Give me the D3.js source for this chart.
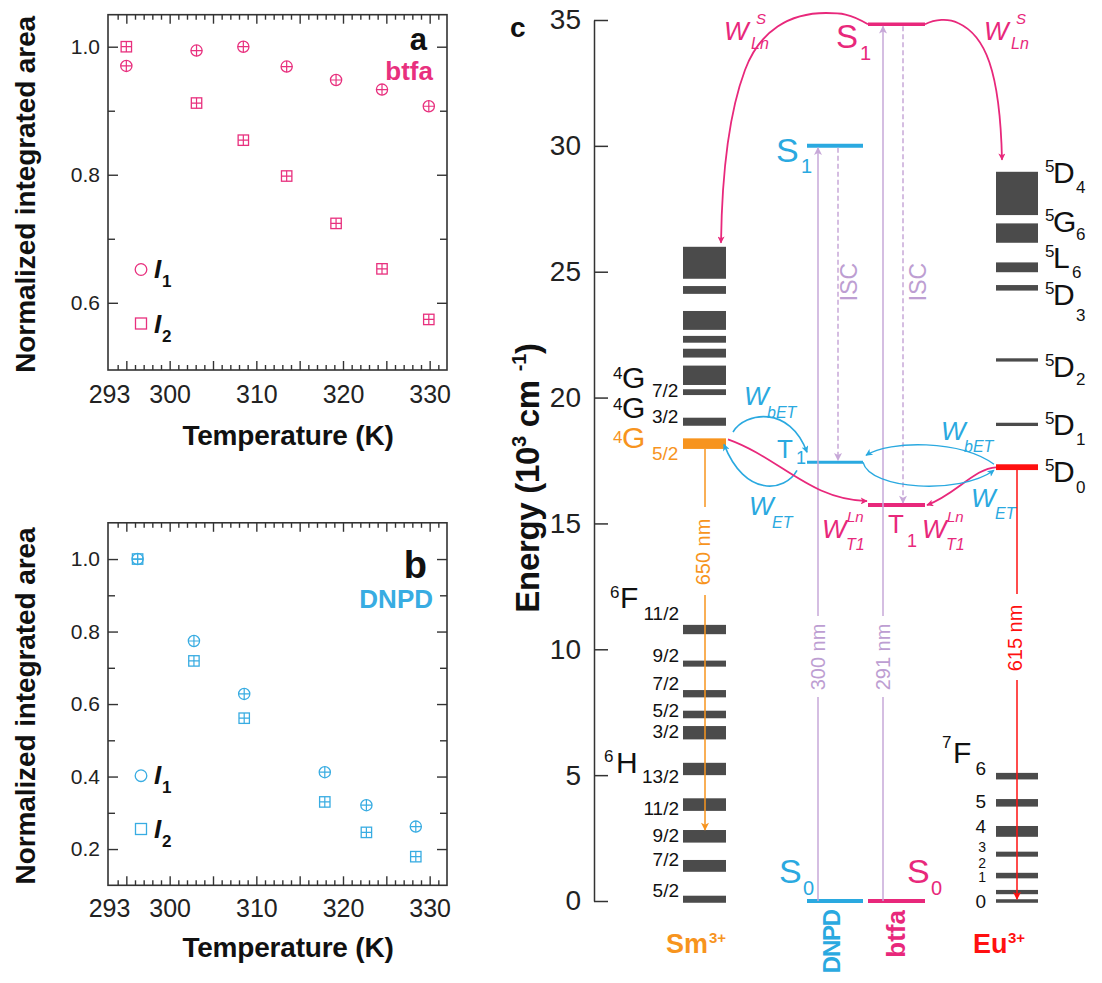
<!DOCTYPE html>
<html><head><meta charset="utf-8">
<script src="https://cdn.jsdelivr.net/npm/d3@7"></script>
<style>body{margin:0;background:#fff}svg{display:block}text{font-family:"Liberation Sans",Arial,Helvetica,sans-serif}</style>
</head><body><svg id="c" width="1102" height="983"></svg>
<script>
// ---------------- DATA ----------------
const tempsA = [295.0, 303.1, 308.5, 313.5, 319.2, 324.5, 329.9];
const btfaI1 = [0.970, 0.994, 1.000, 0.969, 0.948, 0.933, 0.907];
const btfaI2 = [1.000, 0.912, 0.854, 0.798, 0.724, 0.653, 0.574];
const tempsB = [296.3, 302.8, 308.6, 317.9, 322.7, 328.4];
const dnpdI1 = [1.000, 0.774, 0.628, 0.412, 0.321, 0.262];
const dnpdI2 = [1.000, 0.719, 0.561, 0.330, 0.246, 0.179];
const tempTicks = [293, 300, 310, 320, 330];
const yTicksA = [0.6, 0.8, 1.0];
const yTicksB = [0.2, 0.4, 0.6, 0.8, 1.0];
const energyTicks = [0, 5, 10, 15, 20, 25, 30, 35];
// Sm3+ levels (10^3 cm-1) [low, high]
const smUpper = [[24.72,25.99],[24.12,24.43],[22.69,23.44],[22.18,22.45],[21.59,21.94],[20.50,21.27],[20.10,20.33],[18.88,19.20]];
const smEmit = [17.96, 18.38];
const smLower = [[10.60,10.97],[9.31,9.55],[8.09,8.38],[7.26,7.56],[6.42,6.95],[5.00,5.49],[3.58,4.08],[2.32,2.82],[1.16,1.63],[-0.07,0.21]];
const smLowerLabels = ["11/2","9/2","7/2","5/2","3/2","13/2","11/2","9/2","7/2","5/2"];
// Eu3+ levels
const euUpper = [[27.25,28.97],[26.15,26.92],[24.98,25.37],[24.25,24.47],[21.43,21.56],[18.87,19.00]];
const euUpperLabels = [["D","4"],["G","6"],["L","6"],["D","3"],["D","2"],["D","1"]];
const euEmit = [17.12, 17.35];
const euLower = [[4.83,5.09],[3.75,4.05],[2.55,2.98],[1.76,1.96],[0.90,1.12],[0.27,0.44],[-0.07,0.07]];
const euLowerLabels = ["6","5","4","3","2","1","0"];
// ligand levels
const dnpdS1 = 30.0, dnpdT1 = 17.43, dnpdS0 = 0;
const btfaS1 = 34.83, btfaT1 = 15.73, btfaS0 = 0;

// ---------------- STYLE ----------------
const PINK = "#e8287b", BLUE = "#2aa9e0", ORANGE = "#f7941e", RED = "#ff1010", GRAY = "#4b4b4b", PURPLE = "#c7a8d8", PTXT = "#bd9ed2", AX = "#333";
const svg = d3.select("#c");

function T(x, y, s, o = {}) {
  const t = svg.append("text").attr("x", x).attr("y", y).text(s)
    .attr("font-size", o.size || 20).attr("fill", o.fill || "#111");
  if (o.weight) t.attr("font-weight", o.weight);
  if (o.style) t.attr("font-style", o.style);
  if (o.anchor) t.attr("text-anchor", o.anchor);
  if (o.ls !== undefined) t.attr("letter-spacing", o.ls);
  if (o.db) t.attr("dominant-baseline", o.db);
  if (o.rot) t.attr("transform", `rotate(${o.rot},${x},${y})`);
  return t;
}

// ---------------- PANELS a, b ----------------
function panel(o) {
  const L = 108, R = 447;
  const x = d3.scaleLinear([293, 332], [109, 447]);
  const y = d3.scaleLinear(o.yDom, o.yRange);
  const top = o.yRange[1], bot = o.yRange[0];
  const g = svg.append("g");
  const minorX = d3.range(294, 332).filter(v => v % 5 !== 0);
  const majorX = d3.range(295, 332, 5);
  const styleAx = s => { s.select(".domain").remove(); s.selectAll("line").attr("stroke", AX).attr("stroke-width", 1.4); };
  g.append("g").attr("transform", `translate(0,${bot})`).call(d3.axisBottom(x).tickValues(minorX).tickSize(-5).tickFormat("")).call(styleAx);
  g.append("g").attr("transform", `translate(0,${bot})`).call(d3.axisBottom(x).tickValues(majorX).tickSize(-9).tickFormat("")).call(styleAx);
  g.append("g").attr("transform", `translate(0,${top})`).call(d3.axisTop(x).tickValues(minorX).tickSize(-5).tickFormat("")).call(styleAx);
  g.append("g").attr("transform", `translate(0,${top})`).call(d3.axisTop(x).tickValues(majorX).tickSize(-9).tickFormat("")).call(styleAx);
  const xl = g.append("g").attr("transform", `translate(0,${bot})`)
    .call(d3.axisBottom(x).tickValues(tempTicks).tickSize(0).tickPadding(o.xPad).tickFormat(d3.format("d")));
  xl.select(".domain").remove();
  xl.selectAll("text").attr("font-size", 25).attr("fill", "#222").attr("font-family", '"Liberation Sans",Arial,sans-serif');
  // y ticks
  const major = o.yTicks, minor = o.yMinor;
  [[L, d3.axisLeft], [R, d3.axisRight]].forEach(([xx, fn]) => {
    g.append("g").attr("transform", `translate(${xx},0)`).call(fn(y).tickValues(major).tickSize(-10).tickFormat("")).call(styleAx);
    g.append("g").attr("transform", `translate(${xx},0)`).call(fn(y).tickValues(minor).tickSize(-7).tickFormat("")).call(styleAx);
  });
  const yl = g.append("g").attr("transform", `translate(${L},0)`)
    .call(d3.axisLeft(y).tickValues(major).tickSize(0).tickPadding(8).tickFormat(d3.format(".1f")));
  yl.select(".domain").remove();
  yl.selectAll("text").attr("font-size", 21).attr("fill", "#222").attr("font-family", '"Liberation Sans",Arial,sans-serif');
  g.append("rect").attr("x", L).attr("y", top).attr("width", R - L).attr("height", bot - top)
    .attr("fill", "none").attr("stroke", AX).attr("stroke-width", 1.6);
  // data
  const c = o.color, r = 5.6, h = 5.2;
  o.temps.forEach((t, i) => {
    const cx = x(t), cy = y(o.i1[i]);
    g.append("circle").attr("cx", cx).attr("cy", cy).attr("r", r).attr("fill", "none").attr("stroke", c).attr("stroke-width", 1.3);
    g.append("path").attr("d", `M${cx - r},${cy}H${cx + r}M${cx},${cy - r}V${cy + r}`).attr("stroke", c).attr("stroke-width", 1.2);
    const sx = x(t), sy = y(o.i2[i]);
    g.append("rect").attr("x", sx - h).attr("y", sy - h).attr("width", 2 * h).attr("height", 2 * h).attr("fill", "none").attr("stroke", c).attr("stroke-width", 1.3);
    g.append("path").attr("d", `M${sx - h},${sy}H${sx + h}M${sx},${sy - h}V${sy + h}`).attr("stroke", c).attr("stroke-width", 1.2);
  });
  // legend
  g.append("circle").attr("cx", 141).attr("cy", o.legY[0]).attr("r", 5.8).attr("fill", "none").attr("stroke", c).attr("stroke-width", 1.3);
  g.append("rect").attr("x", 141 - 5.5).attr("y", o.legY[1] - 5.5).attr("width", 11).attr("height", 11).attr("fill", "none").attr("stroke", c).attr("stroke-width", 1.3);
  T(154, o.legY[0] + 8, "I", { size: 26, weight: "bold", style: "italic" });
  T(162, o.legY[0] + 17, "1", { size: 17, weight: "bold" });
  T(154, o.legY[1] + 9, "I", { size: 26, weight: "bold", style: "italic" });
  T(162, o.legY[1] + 18, "2", { size: 17, weight: "bold" });
  // labels
  T(427, o.letterY, o.letter, { size: o.letterSize, weight: "bold", anchor: "end" });
  T(433, o.nameY, o.name, { size: 26, weight: "bold", anchor: "end", fill: c });
  T(35, (top + bot) / 2 + 2, "Normalized integrated area", { size: 28, weight: "bold", anchor: "middle", rot: -90, ls: -0.1 });
  T(288, o.xLabY, "Temperature (K)", { size: 28, weight: "bold", anchor: "middle", ls: -0.2 });
}

panel({ yDom: [0.495, 1.05], yRange: [370, 14.7], yTicks: yTicksA, yMinor: [0.7, 0.9], temps: tempsA, i1: btfaI1, i2: btfaI2,
  color: "#e8307e", letter: "a", letterSize: 31, letterY: 50, name: "btfa", nameY: 80, legY: [269.5, 323.5], xPad: 15, xLabY: 445 });
panel({ yDom: [0.1, 1.1], yRange: [885.3, 522.8], yTicks: yTicksB, yMinor: [0.3, 0.5, 0.7, 0.9], temps: tempsB, i1: dnpdI1, i2: dnpdI2,
  color: "#38ace2", letter: "b", letterSize: 38, letterY: 578, name: "DNPD", nameY: 608, legY: [775.7, 829], xPad: 14, xLabY: 957 });

// ---------------- PANEL c ----------------
const yE = d3.scaleLinear([0, 35], [901, 20]);
const ea = svg.append("g").attr("transform", "translate(594,0)")
  .call(d3.axisLeft(yE).tickValues(energyTicks).tickSize(-14).tickSizeOuter(0).tickPadding(13).tickFormat(d3.format("d")));
ea.select(".domain").attr("stroke", AX).attr("stroke-width", 1.5);
ea.selectAll("line").attr("stroke", AX).attr("stroke-width", 1.5);
ea.selectAll("text").attr("font-size", 28).attr("fill", "#222").attr("font-family", '"Liberation Sans",Arial,sans-serif');
T(510, 37, "c", { size: 28, weight: "bold" });
const el = T(539, 478, "", { size: 33, weight: "bold", anchor: "middle", rot: -90, ls: -0.3 });
el.append("tspan").text("Energy (10");
el.append("tspan").text("3").attr("font-size", 20).attr("dy", -13);
el.append("tspan").text(" cm ").attr("dy", 13);
el.append("tspan").text("-1").attr("font-size", 20).attr("dy", -13);
el.append("tspan").text(")").attr("dy", 13);

// markers
const defs = svg.append("defs");
function mk(id, color, w, h) {
  defs.append("marker").attr("id", id).attr("viewBox", "0 0 10 10").attr("refX", 9).attr("refY", 5)
    .attr("markerWidth", w).attr("markerHeight", h).attr("markerUnits", "userSpaceOnUse").attr("orient", "auto")
    .append("path").attr("d", "M0,0L10,5L0,10L2.5,5Z").attr("fill", color);
}
mk("aPink", PINK, 9, 7); mk("aBlue", BLUE, 9, 7); mk("aOrange", ORANGE, 10, 8); mk("aRed", RED, 10, 8); mk("aPurple", PURPLE, 10, 8);

// level bars
const SM = [683, 726], EU = [996, 1038], DN = [807, 863], BT = [868, 925];
function bars(levels, xr, color) {
  svg.append("g").selectAll("rect").data(levels).join("rect")
    .attr("x", xr[0]).attr("width", xr[1] - xr[0])
    .attr("y", d => yE(d[1])).attr("height", d => Math.max(2.5, yE(d[0]) - yE(d[1]))).attr("fill", color);
}
bars(smUpper, SM, GRAY); bars([smEmit], SM, ORANGE); bars(smLower, SM, GRAY);
bars(euUpper, EU, GRAY); bars([euEmit], EU, RED); bars(euLower, EU, GRAY);

// ligand lines
function lvl(e, xr, color, w) {
  svg.append("line").attr("x1", xr[0]).attr("x2", xr[1]).attr("y1", yE(e)).attr("y2", yE(e)).attr("stroke", color).attr("stroke-width", w);
}
lvl(dnpdS1, DN, BLUE, 4); lvl(dnpdT1, DN, BLUE, 3); lvl(dnpdS0, DN, BLUE, 4);
lvl(btfaS1, BT, PINK, 3.5); lvl(btfaT1, BT, PINK, 4); lvl(btfaS0, BT, PINK, 4);

// vertical transitions
function vline(x, y1, y2, color, o = {}) {
  const l = svg.append("line").attr("x1", x).attr("x2", x).attr("y1", y1).attr("y2", y2).attr("stroke", color).attr("stroke-width", o.w || 1.5);
  if (o.dash) l.attr("stroke-dasharray", o.dash);
  if (o.arrow) l.attr("marker-end", `url(#${o.arrow})`);
}
vline(818, yE(0), 697, PURPLE); vline(818, 616, yE(dnpdS1) + 2, PURPLE, { arrow: "aPurple" });
vline(883, yE(0), 697, PURPLE); vline(883, 616, yE(btfaS1) + 2, PURPLE, { arrow: "aPurple" });
T(818, 657, "300 nm", { size: 20, fill: PTXT, anchor: "middle", db: "central", rot: -90 });
T(883, 657, "291 nm", { size: 20, fill: PTXT, anchor: "middle", db: "central", rot: -90 });
vline(838, yE(dnpdS1) + 2, yE(dnpdT1) - 2, PURPLE, { dash: "5,3", arrow: "aPurple" });
vline(903, yE(btfaS1) + 2, yE(btfaT1) - 2, PURPLE, { dash: "5,3", arrow: "aPurple" });
T(849, 282, "ISC", { size: 23, fill: PTXT, anchor: "middle", db: "central", rot: -90 });
T(918, 282, "ISC", { size: 23, fill: PTXT, anchor: "middle", db: "central", rot: -90 });
vline(705, yE(smEmit[0]), 507, ORANGE); vline(705, 595, yE(smLower[7][1]), ORANGE, { arrow: "aOrange" });
T(703, 552, "650 nm", { size: 20, fill: ORANGE, anchor: "middle", db: "central", rot: -90 });
vline(1017, yE(euEmit[0]), 594, RED); vline(1017, 680, yE(euLower[6][1]), RED, { arrow: "aRed" });
T(1015, 638, "615 nm", { size: 20, fill: RED, anchor: "middle", db: "central", rot: -90 });

// curved energy-transfer arrows
function curve(d, color, w, arrow) {
  svg.append("path").attr("d", d).attr("fill", "none").attr("stroke", color).attr("stroke-width", w).attr("marker-end", `url(#${arrow})`);
}
const sTop = yE(btfaS1), smTop = yE(smUpper[0][1]), euTop = yE(euUpper[0][1]);
curve(`M${BT[0]},${sTop}C850,${sTop - 11} 840,13 826,13C790,13 760,30 745,70C730,110 722,170 721,${smTop - 4}`, PINK, 1.8, "aPink");
curve(`M${BT[1]},${sTop}C935,${sTop - 5} 948,18 958,23C985,35 1000,70 1002,${euTop - 12}`, PINK, 1.8, "aPink");
const t1b = yE(dnpdT1), smO = yE(smEmit[1]), t1p = yE(btfaT1), d0 = yE(euEmit[1]);
curve(`M733,432C745,412 790,405 807,${t1b - 10}`, BLUE, 1.6, "aBlue");
curve(`M797,${t1b + 8}C785,492 745,498 724,${smO + 6}`, BLUE, 1.6, "aBlue");
curve(`M728,${smO + 1}C780,458 810,500 ${BT[0] - 1},${t1p - 4}`, PINK, 1.8, "aPink");
curve(`M${EU[0]},${d0 + 3}C975,468 955,495 ${BT[1] + 2},${t1p}`, PINK, 1.8, "aPink");
curve(`M${EU[0] - 2},${d0}C960,440 890,440 866,${t1b - 7}`, BLUE, 1.3, "aBlue");
curve(`M${DN[1]},${t1b}C870,490 960,495 994,${d0 + 6}`, BLUE, 1.3, "aBlue");

// W labels
function W(x, yb, color, sup, sub, o = {}) {
  T(x, yb, "W", { size: 26, style: "italic", fill: color });
  if (sup) T(o.supX, o.supY, sup, { size: 15, style: "italic", fill: color });
  if (sub) T(o.subX, o.subY, sub, { size: 16, style: "italic", fill: color });
}
W(724, 40, PINK, "S", "Ln", { supX: 756, supY: 24, subX: 751, subY: 49 });
W(984, 40, PINK, "S", "Ln", { supX: 1016, supY: 24, subX: 1011, subY: 49 });
W(744, 405, BLUE, null, "bET", { subX: 767, subY: 418 });
W(749, 515, BLUE, null, "ET", { subX: 772, subY: 528 });
W(822, 538, PINK, "Ln", "T1", { supX: 847, supY: 522, subX: 846, subY: 550 });
W(922, 538, PINK, "Ln", "T1", { supX: 947, supY: 522, subX: 946, subY: 550 });
W(941, 440, BLUE, null, "bET", { subX: 964, subY: 452 });
W(971, 507, BLUE, null, "ET", { subX: 995, subY: 519 });

// ligand labels
T(776, 162, "S", { size: 34, fill: BLUE }); T(801, 173, "1", { size: 20, fill: BLUE });
T(836, 48, "S", { size: 33, fill: PINK }); T(860, 60, "1", { size: 20, fill: PINK });
T(777, 458, "T", { size: 26, fill: BLUE }); T(796, 464, "1", { size: 18, fill: BLUE });
T(888, 533, "T", { size: 26, fill: PINK }); T(907, 547, "1", { size: 18, fill: PINK });
T(779, 883, "S", { size: 34, fill: BLUE }); T(803, 895, "0", { size: 20, fill: BLUE });
T(907, 883, "S", { size: 34, fill: PINK }); T(931, 895, "0", { size: 20, fill: PINK });

// Sm term labels
function term(sx, sy, sup, mx, my, main, color, sub, bx, by) {
  T(sx, sy, sup, { size: 17, fill: color });
  T(mx, my, main, { size: 30, fill: color });
  if (sub) T(bx, by, sub, { size: 19, fill: color });
}
term(613, 379, "4", 622, 388, "G", "#111", "7/2", 652, 397);
term(613, 410, "4", 622, 418, "G", "#111", "3/2", 652, 423);
term(613, 443, "4", 622, 448, "G", ORANGE, "5/2", 652, 460);
term(610, 598, "6", 620, 608, "F", "#111");
term(604, 762, "6", 616, 773, "H", "#111");
const smLabDy = [-9.5, -2, -3.7, 2.2, 5, 14, 10.4, 5.4, 0.1, -2.5];
smLower.forEach((d, i) => T(679, yE((d[0] + d[1]) / 2) + smLabDy[i], smLowerLabels[i], { size: 19, anchor: "end", fill: "#111" }));
// Eu labels
const euLabY = [183, 232, 268, 305, 377, 435];
const euSubDy = [10, 8, 10, 16, 8, 10];
euUpper.forEach((d, i) => {
  const [m, s] = euUpperLabels[i];
  T(1045, euLabY[i] - 11, "5", { size: 17, fill: "#111" });
  T(1053, euLabY[i], m, { size: 30, fill: "#111" });
  T(m === "L" ? 1072 : 1076, euLabY[i] + euSubDy[i], s, { size: 17, fill: "#111" });
});
T(1045, 471, "5", { size: 17, fill: "#111" }); T(1053, 482, "D", { size: 30, fill: "#111" }); T(1076, 493, "0", { size: 17, fill: "#111" });
term(942, 748, "7", 953, 763, "F", "#111");
const euLabDy = [-1, 5.5, 2, -1.7, -7.3, -10, 7];
const euLabSize = [19, 19, 19, 14, 14, 14, 19];
euLower.forEach((d, i) => T(986, yE((d[0] + d[1]) / 2) + euLabDy[i], euLowerLabels[i], { size: euLabSize[i], anchor: "end", fill: "#111" }));

// species labels
T(666, 953, "Sm", { size: 27, weight: "bold", fill: ORANGE }); T(709, 943, "3+", { size: 15, weight: "bold", fill: ORANGE });
T(973, 953, "Eu", { size: 27, weight: "bold", fill: RED }); T(1008, 943, "3+", { size: 15, weight: "bold", fill: RED });
T(840, 910, "DNPD", { size: 24, weight: "bold", fill: BLUE, anchor: "end", rot: -90, ls: -1.2 });
T(905, 910, "btfa", { size: 26, weight: "bold", fill: PINK, anchor: "end", rot: -90 });
</script></body></html>
